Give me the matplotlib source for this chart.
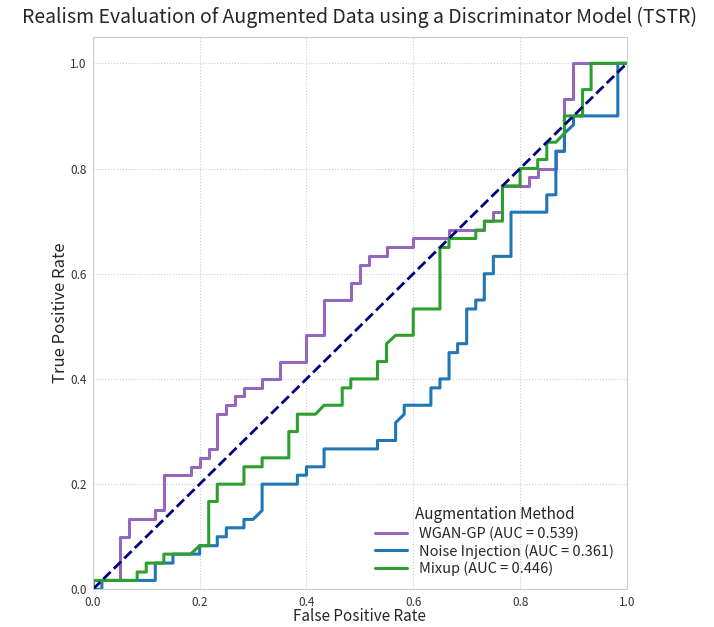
import matplotlib
matplotlib.use("Agg")
import matplotlib.pyplot as plt
import seaborn as sns

# ROC vertices (fpr, tpr)
wgan_fpr = [0, 0, .05, .05, .067, .067, .117, .117, .133, .133, .183, .183, .2, .2, .217, .217,
            .233, .233, .25, .25, .267, .267, .283, .283, .317, .317, .35, .35, .4, .4, .433, .433,
            .483, .483, .5, .5, .517, .517, .55, .55, .6, .6, .667, .667, .733, .733, .75, .75,
            .767, .767, .817, .817, .833, .833, .867, .867, .883, .883, .9, .9, 1.0]
wgan_tpr = [0, .017, .017, .1, .1, .133, .133, .15, .15, .217, .217, .233, .233, .25, .25, .267,
            .267, .333, .333, .35, .35, .367, .367, .383, .383, .4, .4, .433, .433, .483, .483, .55,
            .55, .583, .583, .617, .617, .633, .633, .65, .65, .667, .667, .683, .683, .7, .7, .717,
            .717, .767, .767, .783, .783, .8, .8, .833, .833, .933, .933, 1.0, 1.0]

noise_fpr = [0, .017, .017, .117, .117, .15, .15, .2, .2, .233, .233, .25, .25, .283, .283, .3,
             .317, .317, .383, .383, .4, .4, .433, .433, .533, .533, .567, .567, .583, .583, .633,
             .633, .65, .65, .667, .667, .683, .683, .7, .7, .717, .717, .733, .733, .75, .75, .783,
             .783, .85, .85, .867, .867, .883, .883, .9, .9, .983, .983, 1.0]
noise_tpr = [0, 0, .017, .017, .05, .05, .067, .067, .083, .083, .1, .1, .117, .117, .133, .133,
             .15, .2, .2, .217, .217, .233, .233, .267, .267, .283, .283, .317, .333, .35, .35, .383,
             .383, .4, .4, .45, .45, .467, .467, .533, .533, .55, .55, .6, .6, .633, .633, .717,
             .717, .75, .75, .833, .833, .867, .883, .9, .9, 1.0, 1.0]

mixup_fpr = [0, 0, .083, .083, .1, .1, .133, .133, .183, .2, .217, .217, .233, .233, .283, .283,
             .317, .317, .367, .367, .383, .383, .417, .433, .467, .467, .483, .483, .533, .533,
             .55, .55, .567, .6, .6, .65, .65, .667, .667, .717, .717, .733, .733, .767, .767, .8,
             .8, .833, .833, .85, .85, .867, .883, .883, .917, .917, .933, .933, 1.0]
mixup_tpr = [0, .017, .017, .033, .033, .05, .05, .067, .067, .083, .083, .167, .167, .2, .2, .233,
             .233, .25, .25, .3, .3, .333, .333, .35, .35, .383, .383, .4, .4, .433, .433, .467,
             .483, .483, .533, .533, .65, .65, .667, .667, .683, .683, .7, .7, .767, .767, .8, .8,
             .817, .817, .85, .85, .867, .9, .9, .95, .95, 1.0, 1.0]

methods = ["WGAN-GP", "Noise Injection", "Mixup"]
aucs = [0.539, 0.361, 0.446]
colors = ["#9467bd", "#1f77b4", "#2ca02c"]

sns.set_style("whitegrid")
plt.rcParams["font.family"] = ["Noto Sans CJK SC", "DejaVu Sans"]

fig = plt.figure(figsize=(7.14, 6.27), dpi=100)
ax = fig.add_axes([0.130, 0.060, 0.748, 0.881])

curves = [(wgan_fpr, wgan_tpr), (noise_fpr, noise_tpr), (mixup_fpr, mixup_tpr)]
for (fpr, tpr), name, auc, c in zip(curves, methods, aucs, colors):
    ax.plot(fpr, tpr, color=c, lw=2.2, label=f"{name} (AUC = {auc:.3f})")
ax.plot([0, 1], [0, 1], color="navy", lw=2, ls="--")

ax.set_xlim(0, 1)
ax.set_ylim(0, 1.05)
ax.set_xticks([0, 0.2, 0.4, 0.6, 0.8, 1.0])
ax.set_yticks([0, 0.2, 0.4, 0.6, 0.8, 1.0])
ax.tick_params(labelsize=8.5, colors="#333333", pad=1)
ax.grid(True, ls=":", lw=0.8, color="#cccccc")
for s in ax.spines.values():
    s.set_color("#cccccc")

ax.set_xlabel("False Positive Rate", fontsize=11, va="bottom")
ax.xaxis.set_label_coords(0.5, -0.064)
ax.set_ylabel("True Positive Rate", fontsize=12)
ax.yaxis.set_label_coords(-0.045, 0.5)
ax.set_title("Realism Evaluation of Augmented Data using a Discriminator Model (TSTR)",
             fontsize=14, pad=10)
leg = ax.legend(title="Augmentation Method", loc="lower right", fontsize=10.5,
                title_fontsize=11, frameon=False, labelspacing=0.2,
                handlelength=2.2, handletextpad=0.8)

fig.savefig("out.png", dpi=100)
